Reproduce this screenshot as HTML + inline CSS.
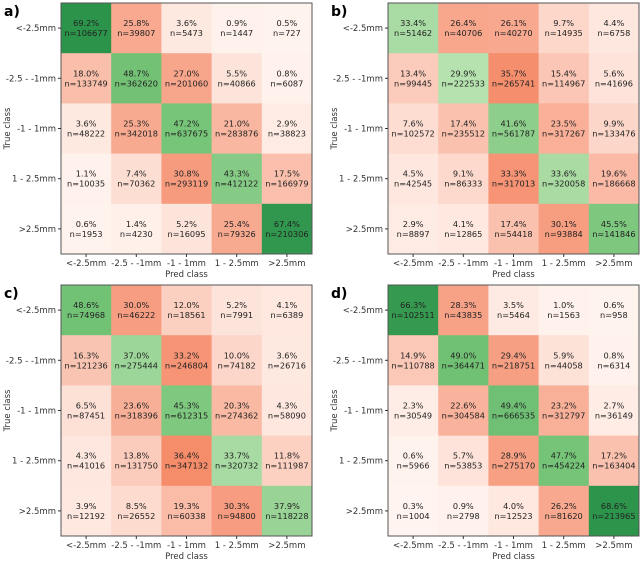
<!DOCTYPE html>
<html><head><meta charset="utf-8"><style>
body{margin:0;background:#fff;width:640px;height:560px;overflow:hidden;font-family:"DejaVu Sans","Liberation Sans",sans-serif}
</style></head><body>
<svg id="s" width="640" height="560"></svg>
<script>
const classes=["<-2.5mm","-2.5 - -1mm","-1 - 1mm","1 - 2.5mm",">2.5mm"];
const pctA=[[69.2,25.8,3.6,0.9,0.5],[18.0,48.7,27.0,5.5,0.8],[3.6,25.3,47.2,21.0,2.9],[1.1,7.4,30.8,43.3,17.5],[0.6,1.4,5.2,25.4,67.4]];
const nA=[[106677,39807,5473,1447,727],[133749,362620,201060,40866,6087],[48222,342018,637675,283876,38823],[10035,70362,293119,412122,166979],[1953,4230,16095,79326,210306]];
const pctB=[[33.4,26.4,26.1,9.7,4.4],[13.4,29.9,35.7,15.4,5.6],[7.6,17.4,41.6,23.5,9.9],[4.5,9.1,33.3,33.6,19.6],[2.9,4.1,17.4,30.1,45.5]];
const nB=[[51462,40706,40270,14935,6758],[99445,222533,265741,114967,41696],[102572,235512,561787,317267,133476],[42545,86333,317013,320058,186668],[8897,12865,54418,93884,141846]];
const pctC=[[48.6,30.0,12.0,5.2,4.1],[16.3,37.0,33.2,10.0,3.6],[6.5,23.6,45.3,20.3,4.3],[4.3,13.8,36.4,33.7,11.8],[3.9,8.5,19.3,30.3,37.9]];
const nC=[[74968,46222,18561,7991,6389],[121236,275444,246804,74182,26716],[87451,318396,612315,274362,58090],[41016,131750,347132,320732,111987],[12192,26552,60338,94800,118228]];
const pctD=[[66.3,28.3,3.5,1.0,0.6],[14.9,49.0,29.4,5.9,0.8],[2.3,22.6,49.4,23.2,2.7],[0.6,5.7,28.9,47.7,17.2],[0.3,0.9,4.0,26.2,68.6]];
const nD=[[102511,43835,5464,1563,958],[110788,364471,218751,44058,6314],[30549,304584,666535,312797,36149],[5966,53853,275170,454224,163404],[1004,2798,12523,81620,213965]];
const panels=[{l:"a)",x:61,y:3,p:pctA,n:nA},{l:"b)",x:388,y:3,p:pctB,n:nB},{l:"c)",x:61,y:285,p:pctC,n:nC},{l:"d)",x:388,y:285,p:pctD,n:nD}];
const S=document.getElementById('s'),NS="http://www.w3.org/2000/svg";
function mk(t,a,txt){const e=document.createElementNS(NS,t);for(const k in a)e.setAttribute(k,a[k]);if(txt!==undefined)e.textContent=txt;S.appendChild(e);return e;}
function lerp(a,b,t){return a.map((v,i)=>Math.round(v+(b[i]-v)*t));}
function green(p){const t=Math.min(1,Math.max(0,(p-25)/45));return t<0.5?lerp([200,234,190],[118,196,120],t*2):lerp([118,196,120],[40,145,72],(t-0.5)*2);}
function red(p){const t=Math.min(1,p/37);return lerp([255,245,240],[245,138,104],Math.pow(t,0.95));}
const C=50.2;
panels.forEach((P,pi)=>{
  mk('text',{x:P.x-57,y:P.y+13,'font-size':14,'font-weight':'bold',fill:'#000',},P.l);
  for(let r=0;r<5;r++)for(let c=0;c<5;c++){
    const v=P.p[r][c],col=r===c?green(v):red(v);
    const cell=mk('rect',{x:P.x+c*C,y:P.y+r*C,width:C+0.5,height:C+0.5,fill:`rgb(${col})`});
    
    
    const cx=P.x+c*C+C/2,cy=P.y+r*C+C/2;
    const t1=mk('text',{x:cx,y:cy-2,'font-size':8.2,'text-anchor':'middle',fill:'#222'},v.toFixed(1)+'%');
    
    
    const t2=mk('text',{x:cx,y:cy+8,'font-size':8.2,'text-anchor':'middle',fill:'#222'},'n='+P.n[r][c]);
    
    
  }
  mk('rect',{x:P.x,y:P.y,width:5*C,height:5*C,fill:'none',stroke:'#555','stroke-width':1,});
  classes.forEach((k,i)=>{
    const yy=P.y+i*C+C/2;
    mk('line',{x1:P.x-3,x2:P.x,y1:yy,y2:yy,stroke:'#333'});
    const yl=mk('text',{x:P.x-5,y:yy+3,'font-size':8.5,'text-anchor':'end',fill:'#333'},k);
    
    
    const xx=P.x+i*C+C/2,by=P.y+5*C;
    mk('line',{x1:xx,x2:xx,y1:by,y2:by+3,stroke:'#333'});
    const xl=mk('text',{x:xx,y:by+12,'font-size':8.5,'text-anchor':'middle',fill:'#333'},k);
    
    
  });
  mk('text',{x:P.x+2.5*C,y:P.y+5*C+23,'font-size':8.5,'text-anchor':'middle',fill:'#333',},'Pred class');
  const ty=P.y+2.5*C;
  mk('text',{x:P.x-51,y:ty,'font-size':8.5,'text-anchor':'middle',fill:'#333',transform:`rotate(-90 ${P.x-51} ${ty})`,},'True class');
});
</script>
</body></html>
